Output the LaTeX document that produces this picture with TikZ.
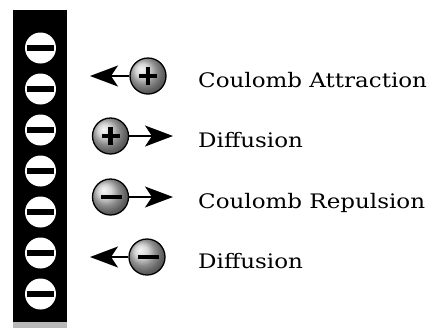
\documentclass[tikz,border=0pt]{standalone}
\usepackage{fontspec}
\setmainfont{DejaVu Serif}[FakeStretch=1.15]
\usetikzlibrary{arrows.meta}
\begin{document}
\begin{tikzpicture}[x=1pt,y=-1pt,
  barcirc/.style={circle,fill=white,minimum size=31pt,inner sep=0pt},
  ion/.style={circle,draw=black,line width=1.3pt,shading=ball,ball color=white!78!black,minimum size=36pt,inner sep=0pt},
  force/.style={line width=1.4pt,-{Stealth[length=28pt,width=21pt,inset=7pt]}},
  sign/.style={line width=4.2pt,black},
  lbl/.style={anchor=base west,inner sep=0pt,font=\fontsize{20}{23}\selectfont},
  ]
\useasboundingbox (0,0) rectangle (431,330);
% charged wall
\fill[black] (13,10) rectangle (67,323);
\fill[gray!55] (13,322) rectangle (67,328);
\foreach \k in {0,...,6} {
  \node[barcirc] (b\k) at (40.5,{48+41*\k}) {};
  \fill[black] (27,{45+41*\k}) rectangle (54,{51+41*\k});
}
% row 1
\node[ion] (i1) at (148,76) {};
\draw[sign] (139,76) -- (157,76) (148,67) -- (148,85);
\coordinate (t1) at (90,76);
\draw[force] (i1) -- (t1);
\node[lbl] (l1) at (198,87) {Coulomb Attraction};
% row 2
\node[ion] (i2) at (110.5,136) {};
\draw[sign] (101.5,136) -- (119.5,136) (110.5,127) -- (110.5,145);
\coordinate (t2) at (173,136);
\draw[force] (i2) -- (t2);
\node[lbl] (l2) at (198,147) {Diffusion};
% row 3
\node[ion] (i3) at (110.5,197) {};
\draw[sign] (101,197) -- (122,197);
\coordinate (t3) at (173,197);
\draw[force] (i3) -- (t3);
\node[lbl] (l3) at (198,208) {Coulomb Repulsion};
% row 4
\node[ion] (i4) at (147,257) {};
\draw[sign] (137.5,257) -- (158.5,257);
\coordinate (t4) at (90,257);
\draw[force] (i4) -- (t4);
\node[lbl] (l4) at (198,268) {Diffusion};
\end{tikzpicture}
\end{document}
